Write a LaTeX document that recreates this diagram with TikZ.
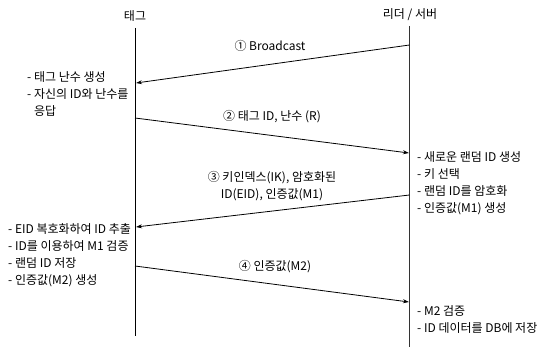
\documentclass[tikz,border=0pt]{standalone}
\usepackage{fontspec}
\setmainfont{Noto Sans CJK KR}
\usetikzlibrary{arrows.meta}
\begin{document}
\begin{tikzpicture}[x=1pt,y=-1pt,
  txt/.style={font=\fontsize{12}{17}\selectfont, inner sep=0pt, align=left, anchor=north west},
  lbl/.style={font=\fontsize{12}{17}\selectfont, inner sep=0pt, align=center},
  hdr/.style={font=\fontsize{12}{14}\selectfont, inner sep=0pt},
  life/.style={line width=0.9pt},
  msg/.style={line width=0.8pt, -{Stealth[length=6pt,width=4pt]}}]
\useasboundingbox (0,0) rectangle (539,347);
% headers
\node[hdr] (tag) at (135,16) {태그};
\node[hdr] (rd) at (410,15) {리더 / 서버};
% lifelines
\coordinate (tagtop) at (135,28);
\coordinate (tagbot) at (135,336);
\coordinate (rdtop) at (409.5,26);
\coordinate (rdbot) at (409.5,347);
\draw[life] (tagtop) -- (tagbot);
\draw[life, line width=0.7pt, black!80] (rdtop) -- (rdbot);
% message endpoints
\coordinate (r1) at (409.5,45);
\coordinate (t1) at (136,83);
\coordinate (t2) at (135,118);
\coordinate (r2) at (409,153);
\coordinate (r3) at (409.5,195);
\coordinate (t3) at (136,227);
\coordinate (t4) at (135,266);
\coordinate (r4) at (409,302);
\draw[msg] (r1) -- (t1);
\draw[msg] (t2) -- (r2);
\draw[msg] (r3) -- (t3);
\draw[msg] (t4) -- (r4);
% message labels
\node[lbl] (m1) at (270,46) {① Broadcast};
\node[lbl] (m2) at (272,117) {② 태그 ID, 난수 (R)};
\node[lbl] (m3) at (272,186.5) {③ 키인덱스(IK), 암호화된\\ID(EID), 인증값(M1)};
\node[lbl] (m4) at (275,267) {④ 인증값(M2)};
% notes
\node[txt] (n1) at (27,71) {- 태그 난수 생성\\- 자신의 ID와 난수를\\\phantom{- }응답};
\node[txt] (n2) at (417,151) {- 새로운 랜덤 ID 생성\\- 키 선택\\- 랜덤 ID를 암호화\\- 인증값(M1) 생성};
\node[txt] (n3) at (8,223) {- EID 복호화하여 ID 추출\\- ID를 이용하여 M1 검증\\- 랜덤 ID 저장\\- 인증값(M2) 생성};
\node[txt] (n4) at (417,305) {- M2 검증\\- ID 데이터를 DB에 저장};
\end{tikzpicture}
\end{document}
